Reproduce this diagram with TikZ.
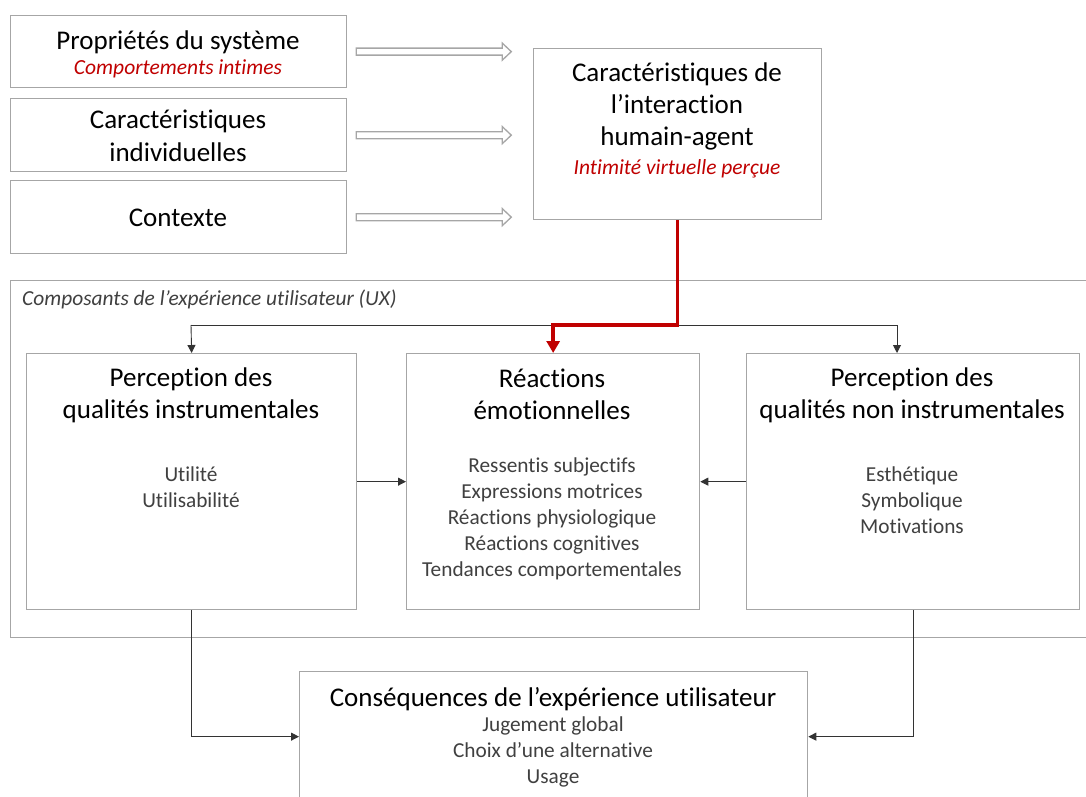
\documentclass[tikz,border=0pt]{standalone}
\usepackage{fontspec}
\setmainfont{Carlito}[Ligatures=NoCommon]
\usetikzlibrary{arrows.meta,calc}
\definecolor{boxgray}{HTML}{A6A6A6}
\definecolor{darkred}{HTML}{C00000}
\definecolor{txtgray}{HTML}{404040}
\definecolor{conngray}{HTML}{333333}
\begin{document}
\begin{tikzpicture}[x=1pt,y=-1pt,
  box/.style={draw=boxgray,line width=1.3pt,fill=white,anchor=north west,inner sep=0pt},
  ttl/.style={font=\fontsize{27}{32}\selectfont,align=center,text=black,inner sep=0pt},
  sub/.style={font=\fontsize{21.3}{26}\selectfont,align=center,text=txtgray,inner sep=0pt},
  redsub/.style={font=\fontsize{21.5}{26}\selectfont\itshape,text=darkred,inner sep=0pt},
  conn/.style={draw=conngray,line width=0.9pt,-{Triangle[length=8pt,width=8pt]}},
  hollow/.style={draw=boxgray,line width=1.3pt,fill=white,line join=miter},
]
\useasboundingbox (0,0) rectangle (1086,797);
% top boxes
\node[box,minimum width=336pt,minimum height=72pt] (p1) at (10,15) {};
\node[box,minimum width=336pt,minimum height=73pt] (p2) at (10,98) {};
\node[box,minimum width=336pt,minimum height=73pt] (p3) at (10,180) {};
\node[box,minimum width=288pt,minimum height=171pt] (I) at (533,48) {};
\node[ttl] (p1t) at (178,42) {Propriétés du système};
\node[redsub] (p1s) at (178,69) {Comportements intimes};
\node[ttl] (p2t) at (178,136) {Caractéristiques\\[1pt]individuelles};
\node[ttl] (p3t) at (178,218) {Contexte};
\node[ttl] (It) at (677,106) {Caractéristiques de\\l’interaction\\humain-agent};
\node[redsub] (Is) at (677,169) {Intimité virtuelle perçue};
% hollow arrows
\foreach \n in {p1,p2,p3}{
  \draw[hollow] ($(\n.east)+(9,-3.5)$) -- ++(146,0) -- ++(0,-5) -- ++(9,8.5) -- ++(-9,8.5) -- ++(0,-5) -- ++(-146,0) -- cycle;
}
% UX frame
\node[box,minimum width=1100pt,minimum height=357pt] (UX) at (10,280) {};
\node[font=\fontsize{21.4}{24}\selectfont\itshape,text=txtgray,anchor=west,inner sep=0pt] (UXt) at (22,299) {Composants de l’expérience utilisateur (UX)};
% UX boxes
\node[box,minimum width=330pt,minimum height=256pt] (L) at (26,353) {};
\node[box,minimum width=293pt,minimum height=256pt] (M) at (406,353) {};
\node[box,minimum width=333pt,minimum height=256pt] (R) at (746,353) {};
\node[ttl] (Lt) at (191,395) {Perception des\\qualités instrumentales};
\node[sub] (Ls) at (191,487) {Utilité\\Utilisabilité};
\node[ttl] (Mt) at (552,394) {Réactions\\émotionnelles};
\node[sub] (Ms) at (552,519) {Ressentis subjectifs\\Expressions motrices\\Réactions physiologique\\Réactions cognitives\\Tendances comportementales};
\node[ttl] (Rt) at (912,395) {Perception des\\qualités non instrumentales};
\node[sub] (Rs) at (912,500) {Esthétique\\Symbolique\\Motivations};
% bottom box
\node[box,minimum width=508pt,minimum height=130pt] (B) at (299,671) {};
\node[ttl] (Bt) at (553,699) {Conséquences de l’expérience utilisateur};
\node[sub] (Bs) at (553,752) {Jugement global\\Choix d’une alternative\\Usage};
% connectors
\coordinate (jl) at (191,325);
\coordinate (jr) at (897,325);
\draw[draw=conngray,line width=0.9pt] (jl) -- (jr);
\draw[conn] (jl) -- (L.north);
\draw[conn] (jr) -- (jr |- R.north);
\draw[draw=darkred,line width=3.5pt,line join=miter,-{Triangle[length=12pt,width=13pt]}] (I.south) |- (M.north |- jl) -- (M.north);
\draw[conn] (L.east) -- (M.west);
\draw[conn] (R.west) -- (M.east);
\draw[conn] (L.south) |- (B.west);
\draw[conn] (R.south) |- (B.east);
\end{tikzpicture}
\end{document}
